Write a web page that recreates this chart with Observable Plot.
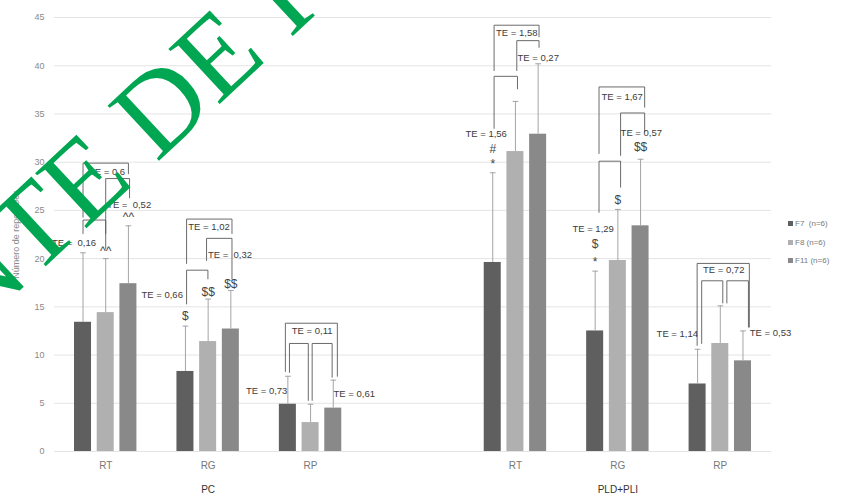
<!DOCTYPE html>
<html><head><meta charset="utf-8">
<script src="https://cdn.jsdelivr.net/npm/d3@7"></script>
<script src="https://cdn.jsdelivr.net/npm/@observablehq/plot@0.6"></script>
<style>
body{margin:0;background:#fff;font-family:"Liberation Sans",Arial,sans-serif;}
#wrap{position:relative;width:841px;height:497px;overflow:hidden;}
#legend{position:absolute;left:788px;top:215px;font-size:8px;color:#7a7a7a;line-height:18.5px;white-space:pre;}
#legend .sw{display:inline-block;width:5px;height:5px;margin-right:2px;vertical-align:0px;}
</style></head><body>
<div id="wrap"><div id="chart"></div><div id="legend"></div></div>
<script>
// ---- data ----
const groups = ["PC", "PLD+PLI"];
const categories = ["RT", "RG", "RP"];
const series = ["F7", "F8", "F11"];
const seriesLabels = ["F7  (n=6)", "F8 (n=6)", "F11 (n=6)"];
const seriesColors = ["#5f5f5f", "#b0b0b0", "#898989"];
// order: PC RT, PC RG, PC RP, PLD+PLI RT, PLD+PLI RG, PLD+PLI RP
const f7Mean  = [13.4,  8.3, 4.9, 19.6, 12.5,  7.0];
const f8Mean  = [14.4, 11.4, 3.0, 31.1, 19.8, 11.2];
const f11Mean = [17.4, 12.7, 4.5, 32.9, 23.4,  9.4];
const f7Err   = [7.2, 4.7, 2.9, 9.3, 6.2, 3.6];
const f8Err   = [5.6, 4.4, 1.9, 5.2, 5.3, 3.9];
const f11Err  = [6.0, 4.0, 2.9, 7.3, 6.9, 3.1];
const yTicks = [0, 5, 10, 15, 20, 25, 30, 35, 40, 45];
const yLabel = "Número de repetições";
// comparison brackets: c = category index, a/b = series position (0=F7,1=F8,2=F11), top / left leg end / right leg end
const brackets = [
  {c:0, a:0,    b:2,    top:29.9, bl:24.3, br:28.8},
  {c:0, a:1,    b:2.05, top:28.3, bl:21.0, br:26.3},
  {c:0, a:0,    b:1,    top:24.0, bl:22.6, br:22.6},
  {c:1, a:0.05, b:2.05, top:24.1, bl:19.5, br:22.6},
  {c:1, a:0.93, b:2.05, top:22.1, bl:19.8, br:17.9},
  {c:1, a:0.05, b:0.99, top:18.8, bl:15.3, br:17.9},
  {c:2, a:-0.11,b:2.18, top:13.3, bl:8.3,  br:7.8},
  {c:2, a:0.07, b:0.9,  top:11.2, bl:8.2,  br:5.3},
  {c:2, a:1.07, b:1.95, top:11.2, bl:5.3,  br:7.7},
  {c:3, a:0.06, b:2.04, top:44.2, bl:39.5, br:43.0},
  {c:3, a:1.06, b:2.04, top:42.6, bl:39.5, br:41.9},
  {c:3, a:0.06, b:1.09, top:38.9, bl:33.5, br:37.6},
  {c:4, a:0.17, b:2.18, top:37.8, bl:30.9, br:35.7},
  {c:4, a:1.12, b:2.18, top:35.1, bl:30.7, br:33.1},
  {c:4, a:0.17, b:1.12, top:30.1, bl:24.8, br:27.4},
  {c:5, a:-0.02,b:2.28, top:19.5, bl:11.0, br:12.9},
  {c:5, a:0.18, b:1.11, top:17.7, bl:11.2, br:15.4},
  {c:5, a:1.29, b:2.24, top:17.7, bl:15.4, br:12.9}
];
const teLabels = [
  {c:0, s:1.06, y:29.0, text:"TE = 0,6",  anchor:"middle"},
  {c:0, s:1.06, y:25.6, text:"TE =  0,52", anchor:"start"},
  {c:0, s:-0.4, y:21.6, text:"TE =  0,16", anchor:"middle"},
  {c:1, s:1.04, y:23.3, text:"TE = 1,02", anchor:"middle"},
  {c:1, s:0.99, y:20.4, text:"TE =  0,32", anchor:"start"},
  {c:1, s:-0.11,y:16.2, text:"TE = 0,66", anchor:"end"},
  {c:2, s:1.07, y:12.5, text:"TE = 0,11", anchor:"middle"},
  {c:2, s:-0.02,y:6.25, text:"TE = 0,73", anchor:"end"},
  {c:2, s:2.01, y:6.0,  text:"TE = 0,61", anchor:"start"},
  {c:3, s:1.06, y:43.4, text:"TE = 1,58", anchor:"middle"},
  {c:3, s:1.09, y:40.8, text:"TE = 0,27", anchor:"start"},
  {c:3, s:-0.29,y:32.9, text:"TE = 1,56", anchor:"middle"},
  {c:4, s:1.19, y:36.8, text:"TE = 1,67", anchor:"middle"},
  {c:4, s:1.12, y:33.0, text:"TE = 0,57", anchor:"start"},
  {c:4, s:-0.09,y:23.1, text:"TE = 1,29", anchor:"middle"},
  {c:5, s:1.15, y:18.8, text:"TE = 0,72", anchor:"middle"},
  {c:5, s:0.02, y:12.2, text:"TE = 1,14", anchor:"end"},
  {c:5, s:2.3,  y:12.3, text:"TE = 0,53", anchor:"start"}
];
const symbols = [
  {c:0, s:1, y:20.8, text:"^^"},
  {c:0, s:2, y:24.3, text:"^^"},
  {c:1, s:0, y:14.0, text:"$"},
  {c:1, s:1, y:16.5, text:"$$"},
  {c:1, s:2, y:17.4, text:"$$"},
  {c:3, s:0, y:31.4, text:"#"},
  {c:3, s:0, y:29.8, text:"*"},
  {c:4, s:1, y:26.1, text:"$"},
  {c:4, s:0, y:21.5, text:"$"},
  {c:4, s:0, y:19.6, text:"*"},
  {c:4, s:2, y:31.6, text:"$$"}
];
const watermark = "NTE DE I";

// ---- layout helpers (slot units: 7 slots, one empty between groups) ----
const catSlot = c => (c < 3 ? c : c + 1) + 0.5;
const step = 0.2216, half = 0.083, cap = 0.028;
const xAt = (c, s) => catSlot(c) + (s - 1) * step;
const catTicks = d3.range(6).map(catSlot);
const groupTicks = [catSlot(1), catSlot(4)];

const means = [f7Mean, f8Mean, f11Mean];
const errs = [f7Err, f8Err, f11Err];
const bars = series.flatMap((name, si) => means[si].map((v, c) => ({series: name, si, c, v, e: errs[si][c]})));
const bracketPts = brackets.flatMap((b, i) => [
  {i, x: xAt(b.c, b.a), y: b.bl}, {i, x: xAt(b.c, b.a), y: b.top},
  {i, x: xAt(b.c, b.b), y: b.top}, {i, x: xAt(b.c, b.b), y: b.br}
]);
const teText = anchor => Plot.text(teLabels.filter(d => d.anchor === anchor), {
  x: d => xAt(d.c, d.s), y: "y", text: "text", textAnchor: anchor, fontSize: 9.5, fill: "#3c3c3c"
});

const svg = Plot.plot({
  width: 841, height: 497,
  marginLeft: 54, marginRight: 70, marginTop: 17, marginBottom: 46,
  style: {fontFamily: "Liberation Sans, Arial, sans-serif", background: "#fff"},
  x: {domain: [0, 7], axis: null},
  y: {domain: [0, 45], axis: null},
  color: {domain: series, range: seriesColors},
  marks: [
    Plot.gridY(yTicks, {stroke: "#e4e4e4", strokeOpacity: 1}),
    Plot.axisY(yTicks, {tickSize: 0, tickPadding: 10, fontSize: 9, color: "#8a8a8a",
      label: yLabel, labelAnchor: "center", labelOffset: 42, labelArrow: "none"}),
    Plot.axisX(catTicks, {tickSize: 0, tickPadding: 10, fontSize: 10, color: "#777",
      tickFormat: (t, i) => categories[i % 3], label: null}),
    Plot.axisX(groupTicks, {tickSize: 0, tickPadding: 34, fontSize: 10, color: "#333",
      tickFormat: (t, i) => groups[i], label: null}),
    Plot.rect(bars, {x1: d => xAt(d.c, d.si) - half, x2: d => xAt(d.c, d.si) + half, y1: 0, y2: "v", fill: "series"}),
    Plot.ruleX(bars, {x: d => xAt(d.c, d.si), y1: "v", y2: d => d.v + d.e, stroke: "#a5a5a5", strokeWidth: 1}),
    Plot.link(bars, {x1: d => xAt(d.c, d.si) - cap, x2: d => xAt(d.c, d.si) + cap,
      y1: d => d.v + d.e, y2: d => d.v + d.e, stroke: "#a5a5a5", strokeWidth: 1}),
    Plot.line(bracketPts, {x: "x", y: "y", z: "i", stroke: "#5a5a5a", strokeWidth: 0.9, curve: "linear"}),
    teText("middle"), teText("start"), teText("end"),
    Plot.text(symbols, {x: d => xAt(d.c, d.s), y: "y", text: "text", fontSize: 12, fill: "#444"})
  ]
});

d3.select(svg).append("text")
  .attr("transform", "translate(-28,335) rotate(-43)")
  .attr("text-anchor", "start")
  .attr("style", "font-family:'Liberation Serif','Times New Roman',serif;font-size:115px;fill:#00a651;text-anchor:start;")
  .text(watermark);

document.getElementById("chart").appendChild(svg);

const legend = document.getElementById("legend");
seriesLabels.forEach((lab, i) => {
  const row = document.createElement("div");
  const sw = document.createElement("span");
  sw.className = "sw"; sw.style.background = seriesColors[i];
  row.appendChild(sw);
  row.appendChild(document.createTextNode(lab));
  legend.appendChild(row);
});
</script>
</body></html>
